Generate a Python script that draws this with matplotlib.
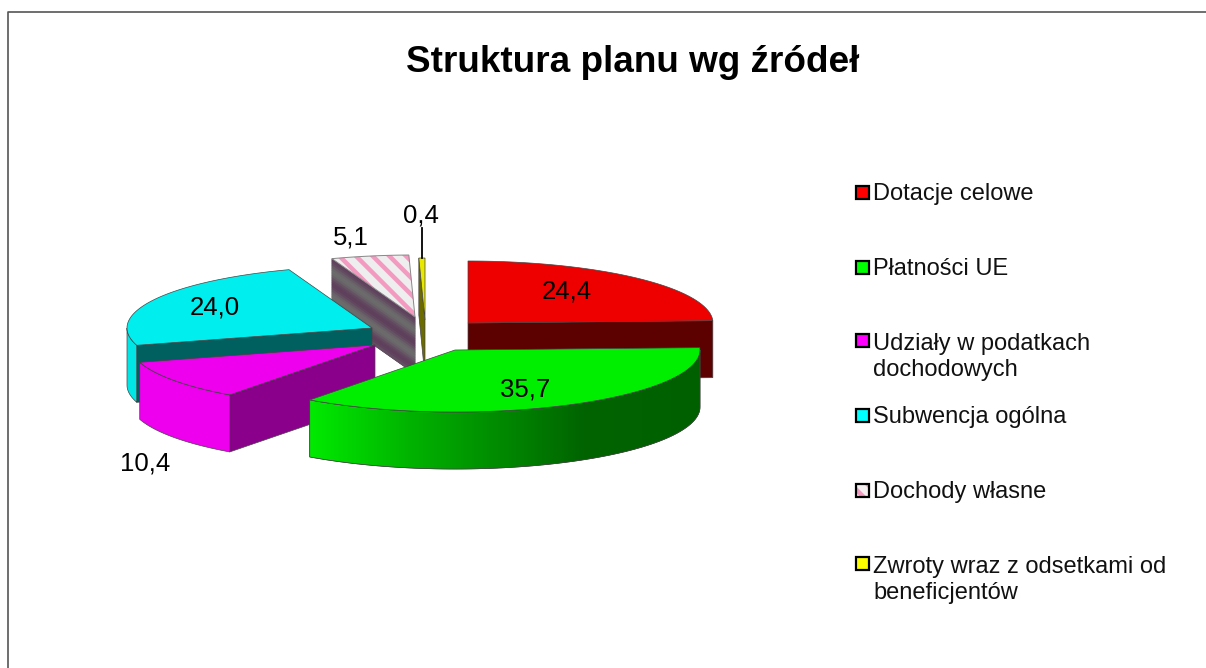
import numpy as np
import matplotlib
matplotlib.use('Agg')
import matplotlib.pyplot as plt
from matplotlib.colors import LinearSegmentedColormap, to_rgb
from matplotlib.patches import Polygon, Rectangle

categories = ['Dotacje celowe', 'Płatności UE', 'Udziały w podatkach\ndochodowych',
              'Subwencja ogólna', 'Dochody własne',
              'Zwroty wraz z odsetkami od\nbeneficjentów']
values = [24.4, 35.7, 10.4, 24.0, 5.1, 0.4]
value_labels = ['24,4', '35,7', '10,4', '24,0', '5,1', '0,4']

# look of each slice
top_colors = ['#ee0000', '#00ee00', '#ee00ee', '#00eeee', '#eeeeee', '#e8e800']
outer_colors = ['#5c0000', '#00b000', '#ee00ee', '#00e6e6', '#6a6a6a', '#6b6b00']
cut_colors = ['#5c0000', '#006000', '#8b008b', '#006060', '#6a6a6a', '#6b6b00']
key_colors = ['#ff0000', '#00ff00', '#ff00ff', '#00ffff', '#f4f0f0', '#ffff00']

# exploded centres in pixels, and where the labels sit
centres = [(468, 323), (455, 350), (375, 345), (372, 328), (415, 317), (425, 320)]
label_pos = [(567, 291), (525, 390), (145, 464), (215, 308), (351, 238), (421, 216)]
legend_y = [192, 267, 340, 415, 490, 563]
draw_order = [0, 5, 4, 3, 2, 1]

RX, RY, DEPTH = 245, 62, 57
EDGE = '#444444'
FONT = 'Liberation Sans'

plt.rcParams['hatch.linewidth'] = 3.2

fig = plt.figure(figsize=(12.06, 6.68), dpi=100)
ax = fig.add_axes([0, 0, 1, 1])


def rim(c, a0, a1, n=80):
    t = np.radians(np.linspace(a0, a1, n))
    return np.column_stack([c[0] + RX * np.sin(t), c[1] - RY * np.cos(t)])


def face(pts, color, zorder, lw=0.5):
    p = Polygon(pts, closed=True, facecolor=color, edgecolor=EDGE, linewidth=lw, zorder=zorder)
    ax.add_patch(p)
    return p


stops = np.cumsum([0] + values) * 3.6
z = 2
for i in draw_order:
    a0, a1 = stops[i], stops[i + 1]
    c = centres[i]
    down = np.array([0, DEPTH])

    # cut face, seen only where it turns to the viewer
    for a, seen in ((a0, 180 < a0 < 360), (a1, 0 < a1 < 180)):
        if seen:
            edge = np.array([c, rim(c, a, a, 1)[0]])
            pts = np.vstack([edge, edge[::-1] + down])
            face(pts, cut_colors[i], z)
            if i == 4:
                # the hatch of this slice shows through as soft bands
                grey, plum = np.array(to_rgb('#6c6c6c')), np.array(to_rgb('#5f3f5c'))
                n = 24
                for k in range(n):
                    mix = 0.5 + 0.5 * np.cos(2 * np.pi * 2.3 * k / n)
                    col = grey + (plum - grey) * mix
                    band = np.vstack([edge + down * k / n, edge[::-1] + down * (k + 1) / n])
                    ax.add_patch(Polygon(band, closed=True, facecolor=col, edgecolor=col,
                                         linewidth=0.4, zorder=z))

    # outer wall, front half of the rim only
    w0, w1 = max(a0, 90), min(a1, 270)
    if w1 > w0:
        arc = rim(c, w0, w1)
        wall = np.vstack([arc, arc[::-1] + down])
        p = face(wall, outer_colors[i], z)
        if i == 1:
            ramp = LinearSegmentedColormap.from_list('wall', [(0, '#006000'), (0.3, '#006400'), (0.75, '#00b400'), (1, '#00ea00')])
            xs = wall[:, 0]
            im = ax.imshow(np.linspace(0, 1, 256)[None, :], cmap=ramp, aspect='auto',
                           extent=(xs.max(), xs.min(), wall[:, 1].max(), wall[:, 1].min()), zorder=z)
            im.set_clip_path(p)
            ax.add_patch(Polygon(wall, closed=True, fill=False, edgecolor=EDGE, linewidth=0.5, zorder=z))

    # top of the slice
    top = np.vstack([[c], rim(c, a0, a1)])
    if i == 4:
        ax.add_patch(Polygon(top, closed=True, facecolor=top_colors[i], edgecolor='#f39ac0',
                             hatch='\\\\', linewidth=0, zorder=z))
        ax.add_patch(Polygon(top, closed=True, fill=False, edgecolor='#888888', linewidth=0.7, zorder=z))
    else:
        face(top, top_colors[i], z)
    z += 1

ax.plot([422, 422], [258, 228], color='black', lw=1.3, zorder=z)
for txt, (x, y) in zip(value_labels, label_pos):
    ax.text(x, y, txt, fontsize=18.5, family=FONT, ha='center', va='center', zorder=z + 1)

for name, col, y in zip(categories, key_colors, legend_y):
    lines = name.split('\n')
    k = col == key_colors[4]
    ax.add_patch(Rectangle((856, y - 6.5), 13, 13, facecolor=col, edgecolor='#f39ac0' if k else 'black',
                           hatch='\\\\' if k else None, linewidth=0, zorder=5))
    ax.add_patch(Rectangle((856, y - 6.5), 13, 13, fill=False, edgecolor='black', linewidth=1.6, zorder=6))
    ax.text(873, y + 8 + 28 * (len(lines) - 1), name, fontsize=17, family=FONT, ha='left',
            va='baseline', linespacing=1.22, color='#111111')

ax.text(633, 72, 'Struktura planu wg źródeł', fontsize=26.6, family=FONT, fontweight='bold',
        ha='center', va='baseline')

# frame of the pasted chart, cut off on two sides
ax.plot([8, 8, 1206], [668, 12, 12], color='#555555', lw=1.2)

ax.set_xlim(0, 1206)
ax.set_ylim(668, 0)
ax.axis('off')

fig.savefig('out.png', dpi=100)
